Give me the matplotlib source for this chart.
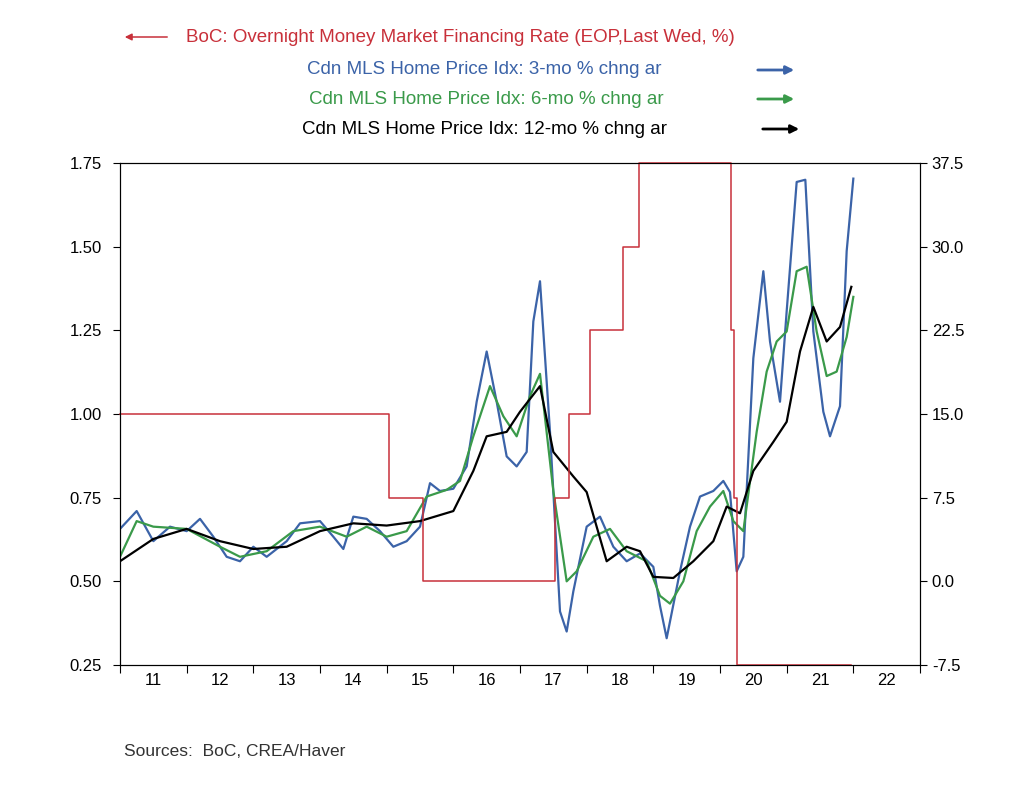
import matplotlib
matplotlib.use("Agg")
import matplotlib.pyplot as plt
import numpy as np

plt.rcParams['font.family'] = ['Liberation Sans', 'DejaVu Sans']

# BoC overnight rate (step), left axis
rate_t = [2011.0, 2015.04, 2015.54, 2017.52, 2017.74, 2018.05, 2018.55, 2018.78, 2020.17, 2020.21, 2020.25, 2021.97]
rate_v = [1.00, 0.75, 0.50, 0.75, 1.00, 1.25, 1.50, 1.75, 1.25, 0.75, 0.25, 0.25]

# 3-mo % chng ar (right axis)
b_t = [2011.0,2011.25,2011.5,2011.75,2012.0,2012.2,2012.4,2012.6,2012.8,2013.0,2013.2,2013.5,2013.7,2014.0,2014.2,2014.35,2014.5,2014.7,2014.9,2015.1,2015.3,2015.5,2015.65,2015.8,2016.0,2016.2,2016.35,2016.5,2016.65,2016.8,2016.95,2017.1,2017.2,2017.3,2017.45,2017.6,2017.7,2017.8,2018.0,2018.2,2018.4,2018.6,2018.8,2019.0,2019.1,2019.2,2019.4,2019.55,2019.7,2019.9,2020.05,2020.15,2020.25,2020.35,2020.5,2020.65,2020.75,2020.9,2021.0,2021.15,2021.28,2021.4,2021.55,2021.65,2021.8,2021.9,2022.0]
b_v = [4.7,6.3,3.6,4.9,4.5,5.6,4.0,2.2,1.8,3.1,2.2,3.6,5.2,5.4,4.0,2.9,5.8,5.6,4.5,3.1,3.6,4.9,8.8,8.1,8.3,10.3,16.1,20.6,16.1,11.2,10.3,11.6,23.3,26.9,13.4,-2.7,-4.5,-0.9,4.9,5.8,3.1,1.8,2.5,1.3,-2.2,-5.1,0.9,4.9,7.6,8.1,9.0,8.0,0.9,2.2,20.0,27.8,21.5,16.1,24.2,35.8,36.0,22.4,15.2,13.0,15.7,29.6,36.1]

# 6-mo % chng ar
g_t = [2011.0,2011.25,2011.5,2012.0,2012.5,2012.8,2013.2,2013.6,2014.0,2014.4,2014.7,2015.0,2015.3,2015.6,2015.9,2016.1,2016.3,2016.55,2016.75,2016.95,2017.15,2017.3,2017.5,2017.7,2017.85,2018.1,2018.35,2018.6,2018.9,2019.1,2019.25,2019.45,2019.65,2019.85,2020.05,2020.2,2020.35,2020.55,2020.7,2020.85,2021.0,2021.15,2021.3,2021.45,2021.6,2021.75,2021.9,2022.0]
g_v = [2.2,5.4,4.9,4.7,3.1,2.2,2.7,4.5,4.9,4.0,4.9,4.0,4.5,7.6,8.2,9.0,13.0,17.5,14.8,13.0,16.6,18.6,8.1,0.0,0.9,4.0,4.7,2.7,1.8,-1.3,-2.0,0.0,4.5,6.7,8.1,5.4,4.5,13.4,18.8,21.5,22.4,27.8,28.2,22.4,18.4,18.8,21.9,25.5]

# 12-mo % chng ar
k_t = [2011.0,2011.5,2012.0,2012.5,2013.0,2013.5,2014.0,2014.5,2015.0,2015.5,2016.0,2016.3,2016.5,2016.8,2017.0,2017.3,2017.5,2017.8,2018.0,2018.3,2018.6,2018.8,2019.0,2019.3,2019.6,2019.9,2020.1,2020.3,2020.5,2020.8,2021.0,2021.2,2021.4,2021.6,2021.8,2021.97]
k_v = [1.8,3.8,4.7,3.6,2.9,3.1,4.5,5.2,5.0,5.4,6.3,9.9,13.0,13.4,15.2,17.5,11.6,9.4,8.0,1.8,3.1,2.7,0.4,0.3,1.8,3.6,6.7,6.1,9.9,12.5,14.3,20.6,24.6,21.5,22.8,26.4]

years = list(range(11, 23))

RED = "#c8303a"; BLUE = "#3b63a8"; GREEN = "#3a9a4a"; BLACK = "#000000"

fig = plt.figure(figsize=(10.3, 8.0), dpi=100)
ax = fig.add_axes([120/1030, 1-665/800, 800/1030, 502/800])
ax2 = ax.twinx()
ax.set_zorder(ax2.get_zorder() + 1); ax.patch.set_visible(False)

ax.step(rate_t, rate_v, where="post", color=RED, lw=1.1, clip_on=False)
ax2.plot(b_t, b_v, color=BLUE, lw=1.6)
ax2.plot(g_t, g_v, color=GREEN, lw=1.6)
ax2.plot(k_t, k_v, color=BLACK, lw=1.6)

ax.set_ylim(0.25, 1.75)
ax.set_yticks(np.arange(0.25, 1.76, 0.25))
ax.set_yticklabels([f"{v:.2f}" for v in np.arange(0.25, 1.76, 0.25)])
ax2.set_ylim(-7.5, 37.5)
ax2.set_yticks(np.arange(-7.5, 37.6, 7.5))
ax2.set_yticklabels([f"{v:.1f}" for v in np.arange(-7.5, 37.6, 7.5)])
ax.set_xlim(2011.05, 2023.0)
ax.set_xticks([2000 + y for y in years] + [2023])
ax.set_xticklabels([])
ax.set_xticks([2000 + y + 0.5 for y in years], minor=True)
ax.set_xticklabels([str(y) for y in years], minor=True)
ax.tick_params(axis="x", which="minor", length=0, labelsize=12, pad=6)
ax.tick_params(axis="x", which="major", length=6, direction="out")
for a in (ax, ax2):
    a.tick_params(axis="y", labelsize=12, direction="out", length=5)
ax.tick_params(axis="y", pad=8)

fs = 13.5
fig.text(186/1030, 1-37/800, "BoC: Overnight Money Market Financing Rate (EOP,Last Wed, %)", color=RED, fontsize=fs, va="center")
fig.add_artist(matplotlib.patches.FancyArrowPatch((170/1030, 1-37/800), (122/1030, 1-37/800), transform=fig.transFigure, arrowstyle="-|>", mutation_scale=10, color=RED, lw=1.1))
rows = [(70, "Cdn MLS Home Price Idx: 3-mo % chng ar", BLUE, 307, 755),
        (99, "Cdn MLS Home Price Idx: 6-mo % chng ar", GREEN, 309, 755),
        (129, "Cdn MLS Home Price Idx: 12-mo % chng ar", BLACK, 302, 760)]
for y, t, c, x0, xa in rows:
    fig.text(x0/1030, 1-y/800, t, color=c, fontsize=fs, va="center")
    fig.add_artist(matplotlib.patches.FancyArrowPatch((xa/1030, 1-y/800), ((xa+42)/1030, 1-y/800), transform=fig.transFigure, arrowstyle="-|>", mutation_scale=12, color=c, lw=2))

fig.text(124/1030, 1-752/800, "Sources:  BoC, CREA/Haver", fontsize=12.5, color="#333333", va="center")
fig.savefig("out.png", dpi=100)
